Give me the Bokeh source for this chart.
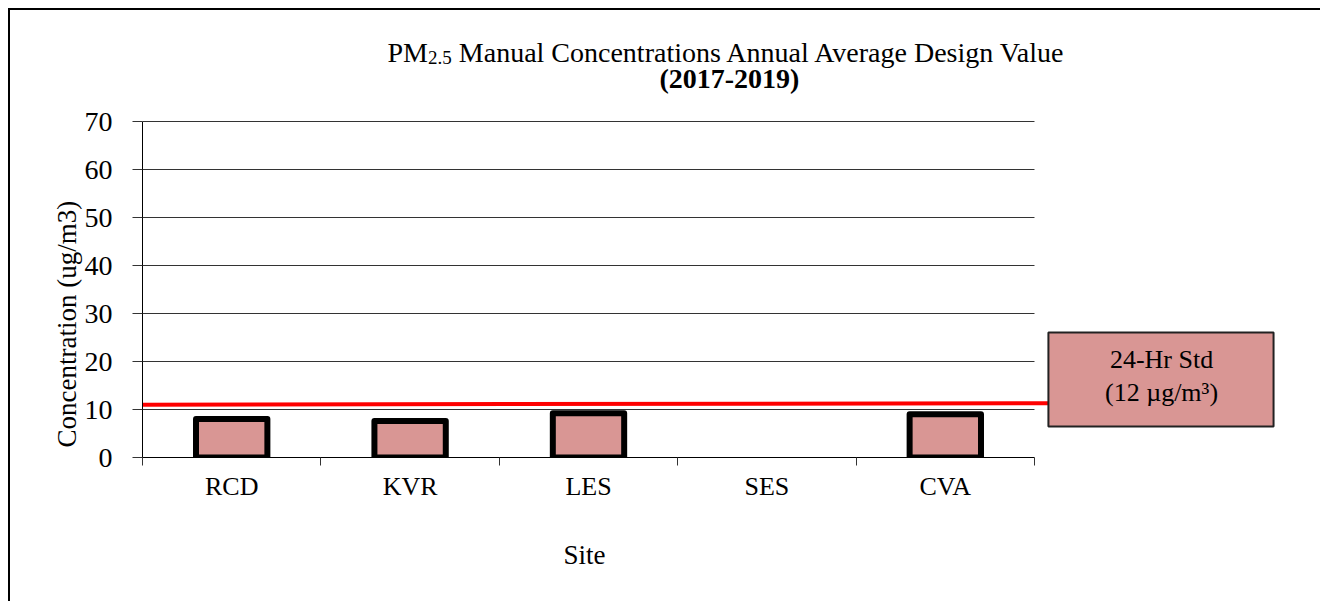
import math
from bokeh.plotting import figure
from bokeh.models import ColumnDataSource, Range1d, FixedTicker, Label, BoxAnnotation, Title
from bokeh.embed import file_html
from bokeh.resources import INLINE

# ---------------- data ----------------
sites = ["RCD", "KVR", "LES", "SES", "CVA"]
design_values = [8.0, 7.6, 9.2, None, 9.0]   # SES: no design value
y_ticks = [0, 10, 20, 30, 40, 50, 60, 70]
std_line_y = [11.0, 11.3]
std_label = ["24-Hr Std", "(12 \u00b5g/m\u00b3)"]
title_pm, title_sub, title_rest = "PM", "2.5", "Manual Concentrations Annual Average Design Value"
title_years = "(2017-2019)"
x_title, y_title = "Site", "Concentration (ug/m3)"

FONT = "Liberation Serif"
BAR_FILL = "#D99694"

# ---------------- figure ----------------
n = len(sites)
y_max_axis = y_ticks[-1]
p = figure(width=1312, height=593, title=None,
           x_range=Range1d(0, 6.435), y_range=Range1d(0, 93.125),
           output_backend="svg", toolbar_location=None,
           min_border_left=132, min_border_right=32,
           min_border_top=0, min_border_bottom=146)
p.styles = {"margin-left": "8px", "margin-top": "8px",
            "border-left": "2px solid #000", "border-top": "2px solid #000"}
p.outline_line_color = None
p.xgrid.visible = False
p.ygrid.visible = False
p.background_fill_color = "white"
p.border_fill_color = "white"

# horizontal gridlines across the category span only
p.segment(x0=[0] * (len(y_ticks) - 1), x1=[n] * (len(y_ticks) - 1),
          y0=y_ticks[1:], y1=y_ticks[1:], line_color="#333333", line_width=1)

# bars
bx = [i + 0.5 for i, v in enumerate(design_values) if v is not None]
bt = [v for v in design_values if v is not None]
src = ColumnDataSource(dict(x=bx, top=bt))
p.vbar(x="x", top="top", bottom=0, width=0.4, source=src,
       fill_color=BAR_FILL, line_color="black", line_width=6, line_join="round")

# standard line
box_left = 5.078
p.line(x=[0, box_left], y=std_line_y, line_color="#FF0000", line_width=4)

# standard box
p.add_layout(BoxAnnotation(left=box_left, right=6.340, bottom=6.46, top=26.04,
                           fill_color=BAR_FILL, fill_alpha=1.0,
                           line_color="#222222", line_width=2, line_alpha=1.0))
for txt, yy in zip(std_label, [20.42, 13.54]):
    p.add_layout(Label(x=5.712, y=yy, text=txt, text_align="center", text_baseline="middle",
                       text_font=FONT, text_font_size="26px", text_color="black"))

# x axis
xa = p.xaxis[0]
xa.ticker = FixedTicker(ticks=[i + 0.5 for i in range(n)], minor_ticks=list(range(n + 1)))
xa.bounds = (0, n)
xa.major_label_overrides = {i + 0.5: s for i, s in enumerate(sites)}
xa.major_tick_line_color = None
xa.major_tick_out = 0
xa.major_tick_in = 0
xa.minor_tick_line_color = "#333333"
xa.minor_tick_out = 8
xa.minor_tick_in = 0
xa.axis_line_color = "black"
xa.major_label_text_font = FONT
xa.major_label_text_font_size = "26px"
xa.major_label_text_color = "black"
xa.major_label_standoff = 6

# y axis
ya = p.yaxis[0]
ya.ticker = FixedTicker(ticks=y_ticks, minor_ticks=[])
ya.bounds = (0, y_max_axis)
ya.major_tick_out = 10
ya.major_tick_in = 0
ya.major_tick_line_color = "#333333"
ya.axis_line_color = "black"
ya.major_label_text_font = FONT
ya.major_label_text_font_size = "28px"
ya.major_label_text_color = "black"
ya.major_label_standoff = 20

# axis titles as side-panel titles
p.add_layout(Title(text=y_title, align="left", offset=10, standoff=0,
                   text_font=FONT, text_font_size="27px", text_font_style="normal",
                   text_color="black"), "left")
p.add_layout(Title(text=x_title, align="left", offset=421, standoff=68,
                   text_font=FONT, text_font_size="27px", text_font_style="normal",
                   text_color="black"), "below")

# chart title (inside the extended frame, above the y-axis bounds)
p.add_layout(Label(x=1.373, y=84.375, text=title_pm, text_align="left", text_baseline="alphabetic",
                   text_font=FONT, text_font_size="28px", text_color="black"))
p.add_layout(Label(x=1.600, y=83.33, text=title_sub, text_align="left", text_baseline="alphabetic",
                   text_font=FONT, text_font_size="19px", text_color="black"))
p.add_layout(Label(x=1.773, y=84.375, text=title_rest, text_align="left", text_baseline="alphabetic",
                   text_font=FONT, text_font_size="28px", text_color="black"))
p.add_layout(Label(x=3.290, y=78.96, text=title_years, text_align="center", text_baseline="alphabetic",
                   text_font=FONT, text_font_size="28px", text_font_style="bold", text_color="black"))

open("out.html", "w").write(file_html(p, INLINE))
